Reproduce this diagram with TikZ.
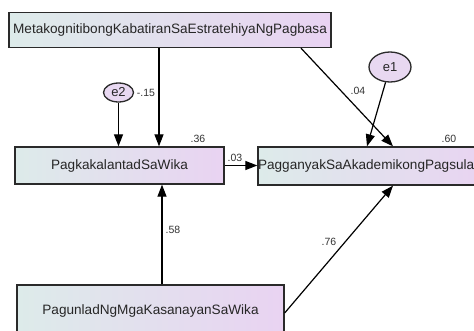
\documentclass[tikz,border=0pt]{standalone}
\usepackage{fontspec}
\setmainfont{Liberation Sans}
\usetikzlibrary{arrows.meta,calc,shadings,shapes.geometric}

\definecolor{boxleft}{HTML}{DDEBEA}
\definecolor{boxright}{HTML}{E9D3F2}
\definecolor{errfill}{HTML}{E8D8F1}
\definecolor{edge}{HTML}{2A2A2A}

\tikzset{
  varbox/.style={draw=edge, line width=1.3pt, rectangle, inner sep=0pt,
    left color=boxleft, right color=boxright,
    font=\fontsize{13.6}{16}\selectfont, text=black!85},
  errnode/.style={draw=edge, line width=1.3pt, ellipse, inner sep=0pt,
    fill=errfill, font=\fontsize{13}{15}\selectfont, text=black!85},
  coef/.style={inner sep=0pt, font=\fontsize{10.5}{12}\selectfont, text=black!80},
  arrowpath/.style={draw=black, line width=1.2pt,
    -{Triangle[length=12pt,width=9pt]}}
}

\begin{document}
\begin{tikzpicture}[x=1pt,y=-1pt]
  \useasboundingbox (0,0) rectangle (474,330);
  \clip (0,0) rectangle (474,330);

  % observed variables
  \node[varbox, minimum width=322pt, minimum height=35pt] (top) at (170,30)
    {MetakognitibongKabatiranSaEstratehiyaNgPagbasa};
  \node[varbox, minimum width=209pt, minimum height=37pt] (lbox) at (119.5,165.5)
    {PagkakalantadSaWika};
  \node[varbox, minimum width=234pt, minimum height=38pt] (rbox) at (375,166) {};
  \node[anchor=west, inner sep=0pt, font=\fontsize{13.6}{16}\selectfont, text=black!85]
    (rtext) at ($(rbox.west)+(0.5,0)$) {PagganyakSaAkademikongPagsula};
  \node[varbox, minimum width=267pt, minimum height=52pt] (bbox) at (150.5,311)
    {PagunladNgMgaKasanayanSaWika};

  % error terms
  \node[errnode, minimum width=30pt, minimum height=19pt] (e2) at (118.5,92.5) {e2};
  \node[errnode, minimum width=42pt, minimum height=30pt] (e1) at (390,67) {e1};

  % regression paths
  \draw[arrowpath] ([xshift=-11pt]top.south) -- ([xshift=39.5pt]lbox.north);
  \draw[arrowpath] (e2.south) -- (e2.south |- lbox.north);
  \draw[arrowpath] ([xshift=131pt]top.south) -- ([xshift=18pt]rbox.north);
  \draw[arrowpath] (e1) -- ([xshift=-8pt]rbox.north);
  \draw[arrowpath] (lbox.east) -- (lbox.east -| rbox.west);
  \draw[arrowpath] ([xshift=11.5pt]bbox.north) -- ([xshift=11.5pt]bbox.north |- lbox.south);
  \draw[arrowpath] ([yshift=-2pt]bbox.east) -- ([xshift=18pt]rbox.south);

  % coefficients
  \node[coef] (c15) at (146,93) {-.15};
  \node[coef] (c36) at (198,139) {.36};
  \node[coef] (c03) at (235,158) {.03};
  \node[coef] (c04) at (358,91) {.04};
  \node[coef] (c60) at (449,139) {.60};
  \node[coef] (c58) at (173,230) {.58};
  \node[coef] (c76) at (329,242) {.76};
\end{tikzpicture}
\end{document}
